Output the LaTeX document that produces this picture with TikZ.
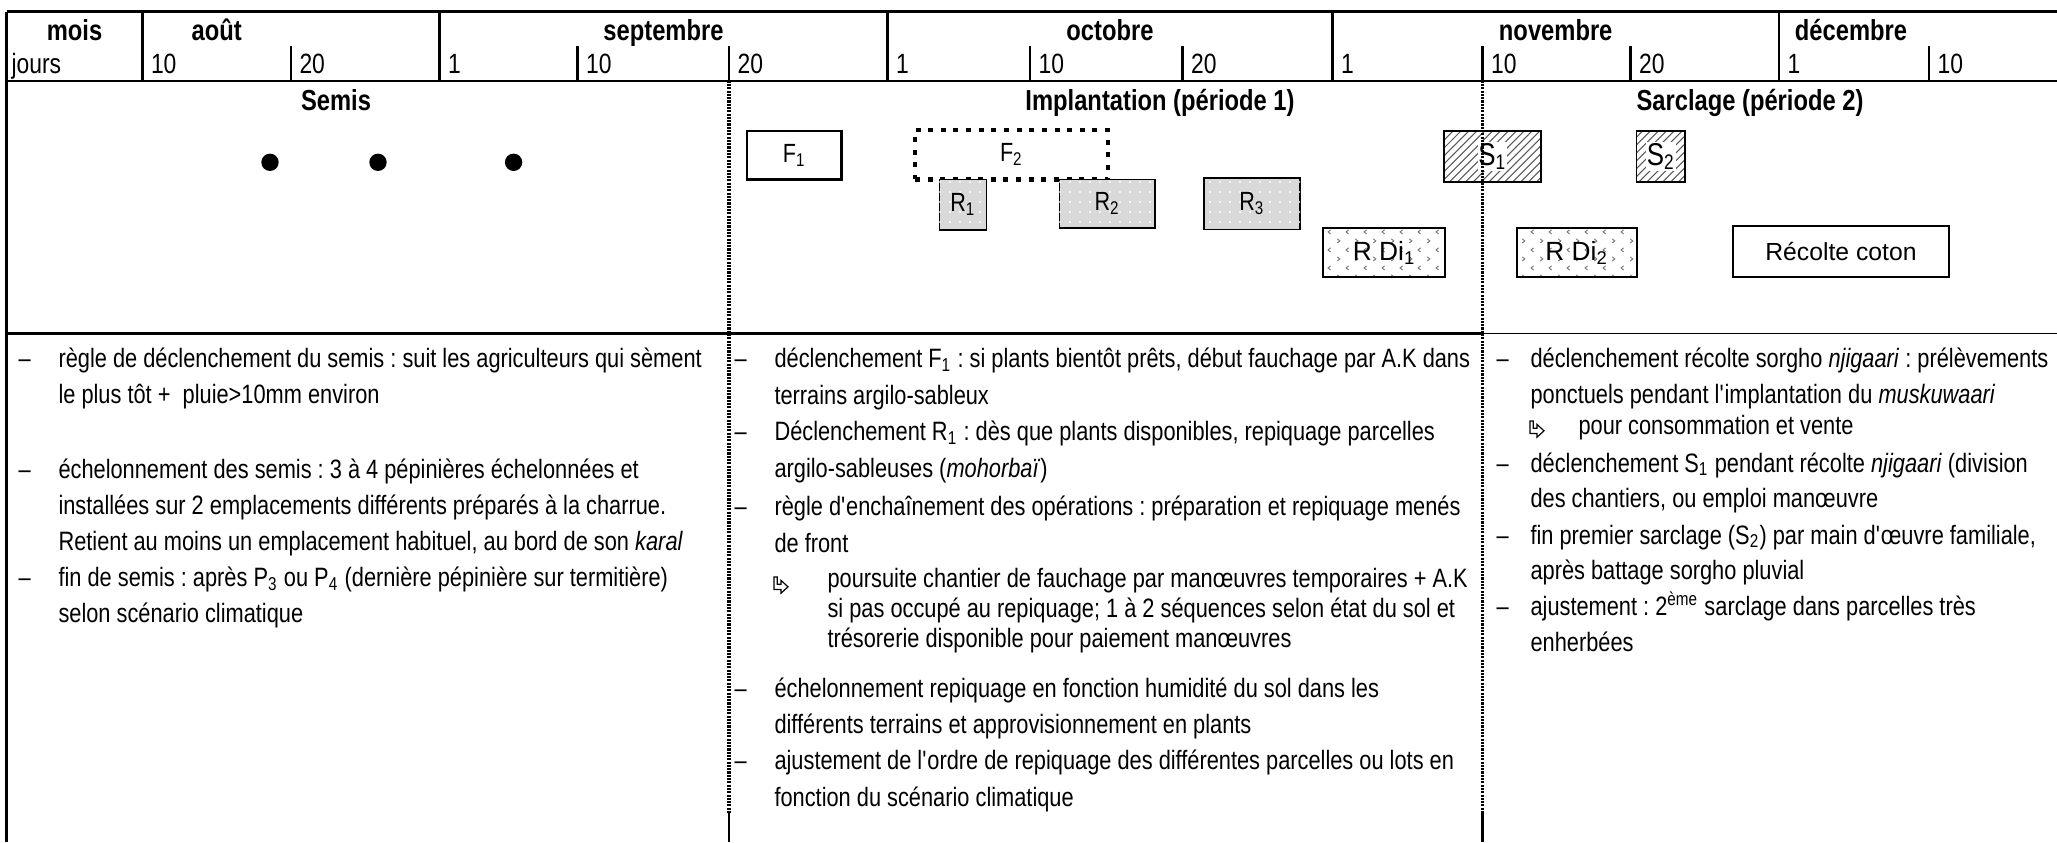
\documentclass[tikz,border=0pt]{standalone}
\usepackage{fontspec}
\setmainfont{Liberation Sans}[FakeStretch=0.82]
\newfontfamily\arialfont{Liberation Sans}
\usetikzlibrary{patterns}
\newcommand\apo{\textquotesingle}
\pgfdeclarepatternformonly{sdots}{\pgfqpoint{-1pt}{-1pt}}{\pgfqpoint{1pt}{1pt}}{\pgfqpoint{3.8pt}{3.8pt}}{%
  \pgfpathcircle{\pgfqpoint{0pt}{0pt}}{0.45pt}\pgfusepath{fill}}
\pgfdeclarepatternformonly{chev}{\pgfqpoint{0pt}{0pt}}{\pgfqpoint{7pt}{7pt}}{\pgfqpoint{7pt}{7pt}}{%
  \pgfsetlinewidth{0.35pt}%
  \pgfpathmoveto{\pgfqpoint{2.2pt}{0.8pt}}\pgfpathlineto{\pgfqpoint{1.2pt}{1.6pt}}\pgfpathlineto{\pgfqpoint{2.2pt}{2.4pt}}%
  \pgfpathmoveto{\pgfqpoint{4.8pt}{4.3pt}}\pgfpathlineto{\pgfqpoint{5.8pt}{5.1pt}}\pgfpathlineto{\pgfqpoint{4.8pt}{5.9pt}}%
  \pgfusepath{stroke}}
\tikzset{
  tl/.style={anchor=base west, inner sep=0pt, font=\fontsize{10.1}{12}\selectfont},
  mh/.style={anchor=base, inner sep=0pt, font=\fontsize{11}{13}\selectfont\bfseries},
  dh/.style={anchor=base west, inner sep=0pt, font=\fontsize{10.6}{12}\selectfont},
  thk/.style={line width=0.8pt},
  thin line/.style={line width=0.45pt},
  dsh/.style={line width=1.2pt, dash pattern=on 0.8pt off 0.45pt},
  box/.style={draw, rectangle, inner sep=0pt, font=\fontsize{10}{12}\selectfont},
  fbox/.style={box, line width=1pt},
  fdot/.style={box, line width=1.8pt, dash pattern=on 1.9pt off 2.9pt},
  rbox/.style={box, line width=0.6pt, fill=black!15, postaction={pattern=sdots, pattern color=white}},
  sbox/.style={box, line width=0.6pt, pattern=north east lines, pattern color=black!65},
  slab/.style={inner sep=0.3pt, fill=white, font=\fontsize{12}{14}\selectfont},
  dibox/.style={box, line width=0.8pt, pattern=chev, pattern color=black!55},
  dilab/.style={inner sep=0.3pt, font=\arialfont\fontsize{10}{12}\selectfont},
  rcbox/.style={box, line width=0.8pt, font=\arialfont\fontsize{9.4}{11}\selectfont},
  dotn/.style={circle, fill=black, inner sep=0pt, minimum size=6.6pt},
  harrow/.pic={\draw[line width=0.45pt, line join=miter] (0,0) -- (3.2,0) -- (3.2,7.2) -- (7,7.2) -- (7,3.4) -- (14,9.8) -- (7,16.2) -- (7,12.4) -- (0,12.4) -- cycle;}
}
\begin{document}
\frenchspacing
\begin{tikzpicture}[x=0.38pt, y=-0.38pt]
\useasboundingbox (0,0) rectangle (2057,842);

% ---- header grid
\draw[thk] (6.5,11.5) -- (2057,11.5);
\draw[thk] (6.5,80.7) -- (2057,80.7);
\draw[thk] (6.5,11.5) -- (6.5,842);
\foreach \vx in {142.5,439.5,887.5,1332.5,1779} \draw[thk] (\vx,11.5) -- (\vx,80.7);
\foreach \vx in {291,577.5,729,1030,1182.5,1482.5,1630.5,1929} \draw[thk] (\vx,46) -- (\vx,80.7);

% ---- month row
\node[mh] (mois) at (74.5,40.5) {mois};
\node[mh] (aout) at (216.7,40.5) {août};
\node[mh] (sept) at (663.5,40.5) {septembre};
\node[mh] (oct) at (1110,40.5) {octobre};
\node[mh] (nov) at (1555.7,40.5) {novembre};
\node[mh] (dec) at (1851,40.5) {décembre};

% ---- day row
\node[dh] (jours) at (11,73.5) {jours};
\node[dh] (j1) at (150.5,73.5) {10};
\node[dh] (j2) at (299,73.5) {20};
\node[dh] (j3) at (447.5,73.5) {1};
\node[dh] (j4) at (585.5,73.5) {10};
\node[dh] (j5) at (737,73.5) {20};
\node[dh] (j6) at (895.5,73.5) {1};
\node[dh] (j7) at (1038,73.5) {10};
\node[dh] (j8) at (1190.5,73.5) {20};
\node[dh] (j9) at (1340.5,73.5) {1};
\node[dh] (j10) at (1490.5,73.5) {10};
\node[dh] (j11) at (1638.5,73.5) {20};
\node[dh] (j12) at (1787,73.5) {1};
\node[dh] (j13) at (1937,73.5) {10};

% ---- section titles
\node[mh] (tsemis) at (336,110.5) {Semis};
\node[mh] (timpl) at (1160,110.5) {Implantation (période 1)};
\node[mh] (tsarc) at (1750,110.5) {Sarclage (période 2)};

% ---- dots (semis)
\node[dotn] (d1) at (270,162.3) {};
\node[dotn] (d2) at (378,162.3) {};
\node[dotn] (d3) at (513.6,162.3) {};

% ---- operation boxes
\node[fbox, minimum width=36pt, minimum height=18.35pt] (F1) at (794.4,155.2) {F\textsubscript{1}};
\node[fdot, minimum width=73.3pt, minimum height=18.7pt] (F2) at (1011.5,154.7) {F\textsubscript{2}};
\node[rbox, minimum width=17.9pt, minimum height=19.3pt] (R1) at (963,204.7) {};
\node[box, draw=none] (R1t) at (R1) {R\textsubscript{1}};
\node[rbox, minimum width=36.4pt, minimum height=18.4pt] (R2) at (1107.2,203.5) {};
\node[box, draw=none] (R2t) at (R2) {R\textsubscript{2}};
\node[rbox, minimum width=36.6pt, minimum height=19.4pt] (R3) at (1251.9,203.8) {};
\node[box, draw=none] (R3t) at (R3) {R\textsubscript{3}};
\node[dibox, minimum width=46.2pt, minimum height=18.6pt] (RD1) at (1384.2,252.8) {};
\node[dilab] (RD1t) at (RD1) {R Di\textsubscript{1}};
\node[sbox, minimum width=36.9pt, minimum height=19.3pt] (S1) at (1492.4,156.4) {};
\node[slab] (S1t) at (S1) {S\textsubscript{1}};
\node[sbox, minimum width=18.5pt, minimum height=19.3pt] (S2) at (1660.9,156.4) {};
\node[slab] (S2t) at (S2) {S\textsubscript{2}};
\node[dibox, minimum width=45.6pt, minimum height=18.6pt] (RD2) at (1576.7,252.8) {};
\node[dilab] (RD2t) at (RD2) {R Di\textsubscript{2}};
\node[rcbox, minimum width=82.3pt, minimum height=19.3pt] (RC) at (1840.9,251.4) {Récolte coton};

% ---- period separators
\draw[dsh] (729,80.7) -- (729,813);
\draw[thk] (729,813) -- (729,842);
\draw[dsh] (1482.5,80.7) -- (1482.5,813);
\draw[thk] (1482.5,813) -- (1482.5,842);
\draw[thk] (6.5,333.5) -- (1482.5,333.5);
\draw[thin line] (1482.5,333.5) -- (2057,333.5);

% ---- left column text
\node[tl] (ld1) at (18,367.5) {–};
\node[tl] (l1) at (58,367.5) {règle de déclenchement du semis : suit les agriculteurs qui sèment};
\node[tl] (l2) at (58,403.5) {le plus tôt +\ \ pluie>10mm environ};
\node[tl] (ld2) at (18,478) {–};
\node[tl] (l3) at (58,478) {échelonnement des semis : 3 à 4 pépinières échelonnées et};
\node[tl] (l4) at (58,514) {installées sur 2 emplacements différents préparés à la charrue.};
\node[tl] (l5) at (58,550.5) {Retient au moins un emplacement habituel, au bord de son \textit{karal}};
\node[tl] (ld3) at (18,586.5) {–};
\node[tl] (l6) at (58,586.5) {fin de semis : après P\textsubscript{3} ou P\textsubscript{4} (dernière pépinière sur termitière)};
\node[tl] (l7) at (58,622.5) {selon scénario climatique};

% ---- middle column text
\node[tl] (md1) at (734,367.5) {–};
\node[tl] (m1) at (774,367.5) {déclenchement F\textsubscript{1} : si plants bientôt prêts, début fauchage par A.K dans};
\node[tl] (m2) at (774,404) {terrains argilo-sableux};
\node[tl] (md2) at (734,440.5) {–};
\node[tl] (m3) at (774,440.5) {Déclenchement R\textsubscript{1} : dès que plants disponibles, repiquage parcelles};
\node[tl] (m4) at (774,477.5) {argilo-sableuses (\textit{mohorbaï})};
\node[tl] (md3) at (734,515) {–};
\node[tl] (m5) at (774,515) {règle d\apo enchaînement des opérations : préparation et repiquage menés};
\node[tl] (m6) at (774,552) {de front};
\pic at (774,577) {harrow};
\node[tl] (m7) at (827,587.5) {poursuite chantier de fauchage par manœuvres temporaires + A.K};
\node[tl] (m8) at (827,617.5) {si pas occupé au repiquage; 1 à 2 séquences selon état du sol et};
\node[tl] (m9) at (827,647.5) {trésorerie disponible pour paiement manœuvres};
\node[tl] (md4) at (734,697.5) {–};
\node[tl] (m10) at (774,697.5) {échelonnement repiquage en fonction humidité du sol dans les};
\node[tl] (m11) at (774,733) {différents terrains et approvisionnement en plants};
\node[tl] (md5) at (734,769.5) {–};
\node[tl] (m12) at (774,769.5) {ajustement de l\apo ordre de repiquage des différentes parcelles ou lots en};
\node[tl] (m13) at (774,806) {fonction du scénario climatique};

% ---- right column text
\node[tl] (rd1) at (1496,367.5) {–};
\node[tl] (r1) at (1530,367.5) {déclenchement récolte sorgho \textit{njigaari} : prélèvements};
\node[tl] (r2) at (1530,403.5) {ponctuels pendant l\apo implantation du \textit{muskuwaari}};
\pic at (1530,421) {harrow};
\node[tl] (r3) at (1578,434) {pour consommation et vente};
\node[tl] (rd2) at (1496,472) {–};
\node[tl] (r4) at (1530,472) {déclenchement S\textsubscript{1} pendant récolte \textit{njigaari} (division};
\node[tl] (r5) at (1530,507.5) {des chantiers, ou emploi manœuvre};
\node[tl] (rd3) at (1496,544) {–};
\node[tl] (r6) at (1530,544) {fin premier sarclage (S\textsubscript{2}) par main d\apo œuvre familiale,};
\node[tl] (r7) at (1530,579.5) {après battage sorgho pluvial};
\node[tl] (rd4) at (1496,615.5) {–};
\node[tl] (r8) at (1530,615.5) {ajustement : 2\textsuperscript{ème} sarclage dans parcelles très};
\node[tl] (r9) at (1530,651) {enherbées};
\end{tikzpicture}
\end{document}
